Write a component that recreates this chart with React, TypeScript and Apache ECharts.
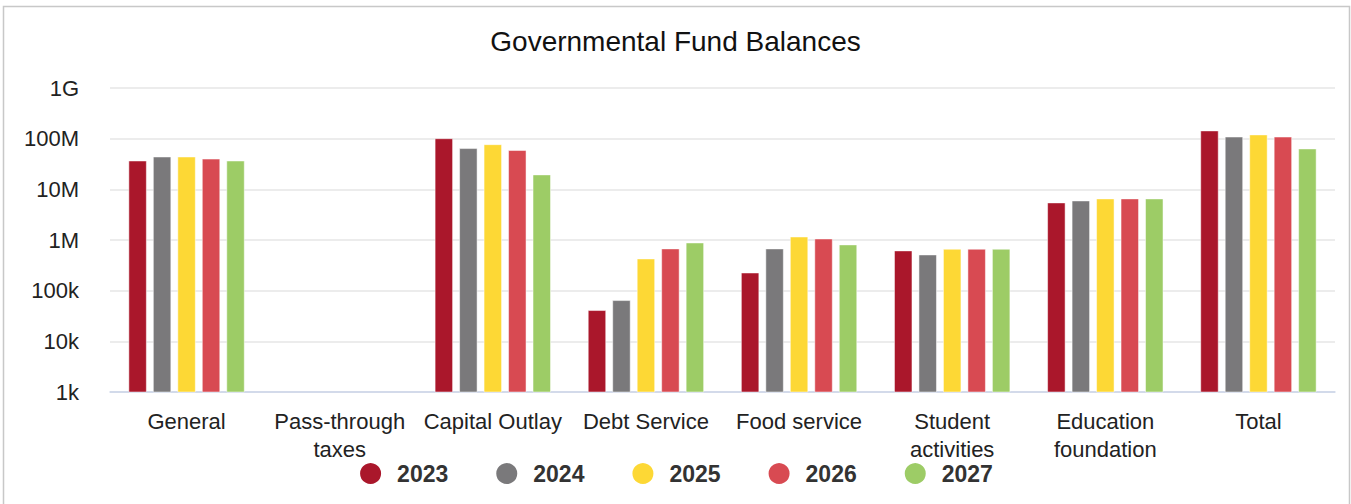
import React, { useEffect, useRef } from "react";
import * as echarts from "echarts";

const categories = [
  "General",
  "Pass-through\ntaxes",
  "Capital Outlay",
  "Debt Service",
  "Food service",
  "Student\nactivities",
  "Education\nfoundation",
  "Total",
];

const years = ["2023", "2024", "2025", "2026", "2027"];
const colors = ["#AA172B", "#7A797B", "#FDD835", "#D84A52", "#9DCC66"];

const v2023 = [36.7e6, null, 101e6, 41e3, 226e3, 617e3, 5.46e6, 144e6];
const v2024 = [44e6, null, 64.5e6, 64.5e3, 675e3, 513e3, 5.97e6, 109e6];
const v2025 = [44e6, null, 77e6, 428e3, 1.16e6, 665e3, 6.55e6, 120e6];
const v2026 = [40e6, null, 59e6, 675e3, 1.06e6, 665e3, 6.55e6, 109e6];
const v2027 = [36.7e6, null, 19.5e6, 885e3, 810e3, 665e3, 6.55e6, 63.5e6];
const seriesValues = [v2023, v2024, v2025, v2026, v2027];

const tickValues = [1e3, 1e4, 1e5, 1e6, 1e7, 1e8, 1e9];
const tickLabels = ["1k", "10k", "100k", "1M", "10M", "100M", "1G"];

const FONT = "'Liberation Sans', Arial, sans-serif";

export default function App() {
  const ref = useRef<HTMLDivElement>(null);
  useEffect(() => {
    if (!ref.current) return;
    const chart = echarts.init(ref.current, null, { renderer: "svg" });
    chart.setOption({
      animation: false,
      backgroundColor: "#ffffff",
      title: {
        text: "Governmental Fund Balances",
        left: "center",
        top: 22,
        textStyle: {
          fontFamily: FONT,
          fontSize: 28,
          fontWeight: "normal",
          color: "#111111",
        },
      },
      graphic: [
        {
          type: "rect",
          shape: { x: 3.5, y: 6.5, width: 1346, height: 520 },
          style: { fill: "none", stroke: "#c8c8c8", lineWidth: 1.5 },
          silent: true,
        },
      ],
      legend: {
        top: 461,
        left: "center",
        icon: "circle",
        itemWidth: 23,
        itemHeight: 23,
        itemGap: 46,
        padding: 0,
        data: years,
        textStyle: {
          fontFamily: FONT,
          fontSize: 23,
          fontWeight: "bold",
          color: "#333333",
          lineHeight: 23,
          padding: [2, 0, 0, 10],
        },
      },
      grid: { left: 110, right: 16, top: 88, bottom: 112, containLabel: false },
      xAxis: {
        type: "category",
        data: categories,
        axisLine: { lineStyle: { color: "#ccd6eb", width: 1.5 } },
        axisTick: { show: false },
        axisLabel: {
          fontFamily: FONT,
          fontSize: 22,
          color: "#222222",
          lineHeight: 28,
          margin: 15,
          interval: 0,
        },
      },
      yAxis: {
        type: "log",
        logBase: 10,
        min: 1e3,
        max: 1e9,
        axisLine: { show: false },
        axisTick: { show: false },
        splitLine: { lineStyle: { color: "#e6e6e6", width: 1.5 } },
        axisLabel: {
          fontFamily: FONT,
          fontSize: 22,
          color: "#222222",
          margin: 31,
          formatter: (v: number) => {
            const i = tickValues.findIndex((t) => Math.abs(t - v) / t < 1e-6);
            return i >= 0 ? tickLabels[i] : "";
          },
        },
      },
      series: years.map((y, i) => ({
        name: y,
        type: "bar",
        data: seriesValues[i],
        barWidth: 18,
        barGap: "36%",
        itemStyle: { color: colors[i], borderColor: "#ffffff", borderWidth: 0.5 },
      })),
    });
    return () => chart.dispose();
  }, []);
  return (
    <div
      ref={ref}
      style={{ position: "fixed", left: 0, top: 0, width: 1351, height: 504 }}
    />
  );
}
